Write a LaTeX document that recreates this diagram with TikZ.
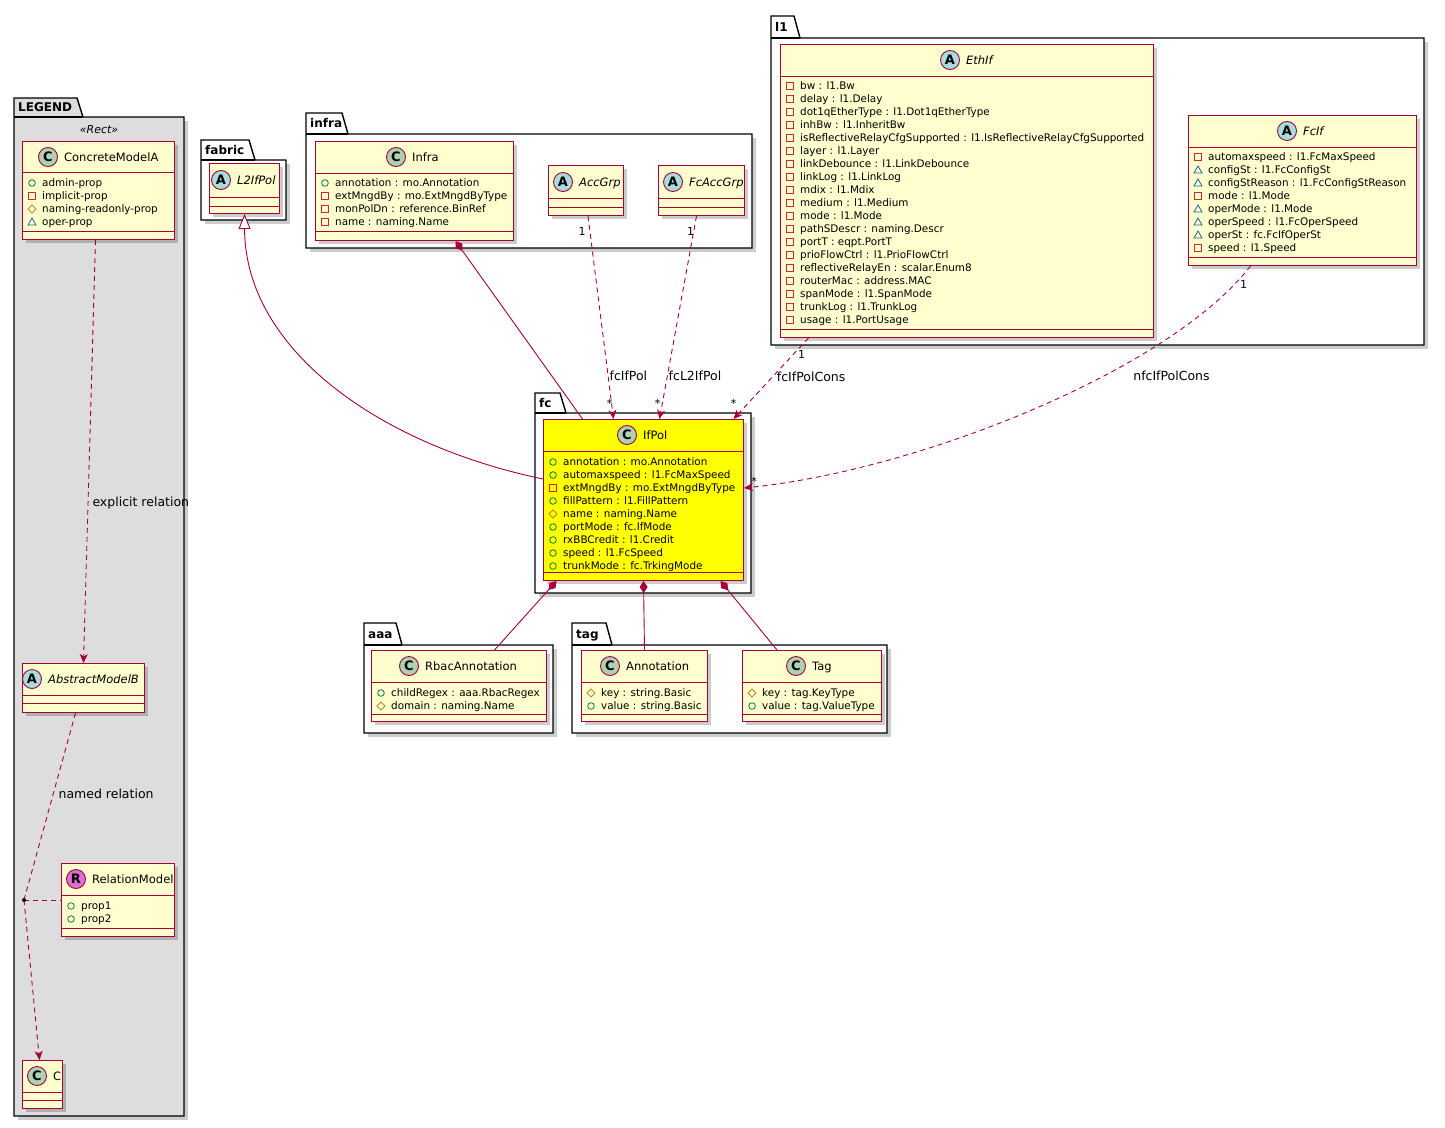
\documentclass[tikz,border=0pt]{standalone}
\usepackage{fontspec}
\setmainfont{DejaVu Sans}
\usetikzlibrary{arrows.meta,positioning,calc}
\definecolor{ClassBorder}{HTML}{A80036}
\definecolor{ClassFill}{HTML}{FEFECE}
\definecolor{FocusFill}{HTML}{FFFF00}
\definecolor{LegendFill}{HTML}{DDDDDD}
\definecolor{BadgeC}{HTML}{ADD1B2}
\definecolor{BadgeA}{HTML}{A9DCDF}
\definecolor{BadgeR}{HTML}{DA70D6}
\definecolor{VisPub}{HTML}{038048}
\definecolor{VisPriv}{HTML}{C82930}
\definecolor{VisProt}{HTML}{B38D22}
\definecolor{VisPkg}{HTML}{1963A0}
\newcommand{\UmlPackage}[9]{%
  \fill[boxshadow] (#3+4,#5+4) rectangle (#6+4,#7+4);
  \draw[pkgframe,fill=#9] (#3,#4) -- (#3+#8-6,#4) -- (#3+#8,#5) -- (#6,#5) -- (#6,#7) -- (#3,#7) -- cycle;
  \draw[pkgframe] (#3,#5) -- (#3+#8,#5);
  \node[pkglabel] (#1) at (#3+4,{(#4+#5)/2}) {#2};
}
\newcommand{\UmlClass}[7]{%
  \fill[boxshadow] (#2+4,#3+4) rectangle (#4+4,#5+4);
  \node[classbox,fill=#6,minimum width={#4-#2},minimum height={#5-#3}] (#1) at (#2,#3) {};
  \foreach \sepy in {#7} \draw[classrule] (#2,\sepy) -- (#4,\sepy);
}
\newcommand{\UmlHead}[6]{%
  \node[badge,fill=#5] (#1-badge) at (#2,#3) {#4};
  \node[classname,right=6pt of #1-badge] (#1-name) {#6};
}
\newcommand{\AttrIcon}[3]{\csname attricon#3\endcsname{#1}{#2}}
\newcommand{\attriconpb}[2]{\draw[VisPub,line width=0.8pt] (#1,#2) circle (3.3);}
\newcommand{\attriconpv}[2]{\draw[VisPriv,line width=0.8pt] (#1-3.3,#2-3.3) rectangle (#1+3.3,#2+3.3);}
\newcommand{\attriconpt}[2]{\draw[VisProt,line width=0.8pt] (#1,#2-4) -- (#1+4,#2) -- (#1,#2+4) -- (#1-4,#2) -- cycle;}
\newcommand{\attriconpk}[2]{\draw[VisPkg,line width=0.8pt] (#1,#2-4) -- (#1+4,#2+3) -- (#1-4,#2+3) -- cycle;}
\newcommand{\AttrList}[4]{%
  \foreach \vis/\txt [count=\row from 0] in {#4} {
    \AttrIcon{#2+10}{#3+13*\row}{\vis}
    \node[attr] (#1-attr\row) at (#2+20,#3+13*\row) {\txt};
  }
}
\tikzset{
  diagram/.style={x=1pt,y=-1pt},
  boxshadow/.style={fill=black,opacity=0.2},
  pkgframe/.style={draw=black,line width=1.4pt},
  pkglabel/.style={anchor=west,inner sep=0pt,font=\fontsize{12}{12}\selectfont\bfseries,text height=8.6pt,text depth=0pt},
  classbox/.style={draw=ClassBorder,line width=1pt,inner sep=0pt,anchor=north west},
  classrule/.style={draw=ClassBorder,line width=1pt},
  badge/.style={circle,draw=ClassBorder,line width=0.9pt,minimum size=19pt,inner sep=0pt,font=\fontsize{13}{13}\selectfont\bfseries},
  classname/.style={inner sep=0pt,font=\fontsize{11.5}{11.5}\selectfont,text height=8.3pt,text depth=0pt},
  stereo/.style={inner sep=0pt,font=\fontsize{11}{11}\selectfont\itshape},
  attr/.style={anchor=west,inner sep=0pt,font=\fontsize{10.4}{13}\selectfont,text height=7.5pt,text depth=0pt},
  link/.style={draw=ClassBorder,line width=0.9pt},
  dep/.style={link,dash pattern=on 5pt off 4pt,-{Stealth[length=9pt,width=8pt,inset=2.5pt]}},
  namedrel/.style={link,dash pattern=on 5pt off 4pt},
  comp/.style={link,{Diamond[length=12pt,width=8pt]}-},
  inherit/.style={link,-{Triangle[length=15pt,width=12pt,fill=white]}},
  rellabel/.style={inner sep=0pt,font=\fontsize{12.5}{13}\selectfont,text height=8.4pt,text depth=0pt},
  mult/.style={inner sep=0pt,font=\fontsize{11}{11}\selectfont},
}
\begin{document}
\begin{tikzpicture}[diagram]
  \useasboundingbox (0,0) rectangle (1445,1127);
  \fill[white] (0,0) rectangle (1445,1127);

  % packages
  \UmlPackage{legend}{LEGEND}{14}{98}{117}{184}{1116}{69}{LegendFill}
  \UmlPackage{fabric}{fabric}{201}{140}{160}{286}{220}{54}{white}
  \UmlPackage{infra-pkg}{infra}{306}{113}{134}{752}{248}{42}{white}
  \UmlPackage{l1}{l1}{771}{16}{38}{1424}{345}{29}{white}
  \UmlPackage{fc}{fc}{535}{393}{413}{751}{593}{31}{white}
  \UmlPackage{aaa}{aaa}{364}{623}{645}{553}{733}{38}{white}
  \UmlPackage{tag-pkg}{tag}{572}{623}{645}{887}{733}{40}{white}
  \node[stereo] (legend-stereo) at (99,130) {«Rect»};

  % legend
  \UmlClass{concrete}{22}{141}{174}{239}{ClassFill}{172,231}
  \UmlHead{concrete}{48}{157}{C}{BadgeC}{ConcreteModelA}
  \AttrList{concrete}{22}{183}{pb/admin-prop,pv/implicit-prop,pt/naming-readonly-prop,pk/oper-prop}
  \UmlClass{abstractb}{22}{663}{144}{712}{ClassFill}{695,703}
  \UmlHead{abstractb}{32}{679}{A}{BadgeA}{\itshape AbstractModelB}
  \UmlClass{relmodel}{61}{863}{174}{936}{ClassFill}{895,928}
  \UmlHead{relmodel}{76}{879}{R}{BadgeR}{RelationModel}
  \AttrList{relmodel}{61}{906}{pb/prop1,pb/prop2}
  \UmlClass{cls}{22}{1060}{62}{1108}{ClassFill}{1092,1100}
  \UmlHead{cls}{37}{1076}{C}{BadgeC}{C}

  % fabric, infra
  \UmlClass{l2ifpol}{209}{163}{279}{213}{ClassFill}{197,206}
  \UmlHead{l2ifpol}{221}{180}{A}{BadgeA}{\itshape L2IfPol}
  \UmlClass{infra}{315}{141}{513}{240}{ClassFill}{173,231}
  \UmlHead{infra}{396}{157}{C}{BadgeC}{Infra}
  \AttrList{infra}{315}{183}{pb/annotation : mo.Annotation,pv/extMngdBy : mo.ExtMngdByType,pv/monPolDn : reference.BinRef,pv/name : naming.Name}
  \UmlClass{accgrp}{548}{165}{623}{215}{ClassFill}{198,207}
  \UmlHead{accgrp}{563}{182}{A}{BadgeA}{\itshape AccGrp}
  \UmlClass{fcaccgrp}{658}{165}{744}{215}{ClassFill}{198,207}
  \UmlHead{fcaccgrp}{673}{182}{A}{BadgeA}{\itshape FcAccGrp}

  % l1
  \UmlClass{ethif}{780}{44}{1153}{337}{ClassFill}{76,329}
  \UmlHead{ethif}{950}{60}{A}{BadgeA}{\itshape EthIf}
  \AttrList{ethif}{780}{86}{pv/bw : l1.Bw,pv/delay : l1.Delay,pv/dot1qEtherType : l1.Dot1qEtherType,pv/inhBw : l1.InheritBw,pv/isReflectiveRelayCfgSupported : l1.IsReflectiveRelayCfgSupported,pv/layer : l1.Layer,pv/linkDebounce : l1.LinkDebounce,pv/linkLog : l1.LinkLog,pv/mdix : l1.Mdix,pv/medium : l1.Medium,pv/mode : l1.Mode,pv/pathSDescr : naming.Descr,pv/portT : eqpt.PortT,pv/prioFlowCtrl : l1.PrioFlowCtrl,pv/reflectiveRelayEn : scalar.Enum8,pv/routerMac : address.MAC,pv/spanMode : l1.SpanMode,pv/trunkLog : l1.TrunkLog,pv/usage : l1.PortUsage}
  \UmlClass{fcif}{1188}{115}{1416}{265}{ClassFill}{147,257}
  \UmlHead{fcif}{1287}{131}{A}{BadgeA}{\itshape FcIf}
  \AttrList{fcif}{1188}{157}{pv/automaxspeed : l1.FcMaxSpeed,pk/configSt : l1.FcConfigSt,pk/configStReason : l1.FcConfigStReason,pv/mode : l1.Mode,pk/operMode : l1.Mode,pk/operSpeed : l1.FcOperSpeed,pk/operSt : fc.FcIfOperSt,pv/speed : l1.Speed}

  % fc
  \UmlClass{ifpol}{543}{419}{743}{580}{FocusFill}{451,572}
  \UmlHead{ifpol}{627}{435}{C}{BadgeC}{IfPol}
  \AttrList{ifpol}{543}{462}{pb/annotation : mo.Annotation,pb/automaxspeed : l1.FcMaxSpeed,pv/extMngdBy : mo.ExtMngdByType,pb/fillPattern : l1.FillPattern,pt/name : naming.Name,pb/portMode : fc.IfMode,pb/rxBBCredit : l1.Credit,pb/speed : l1.FcSpeed,pb/trunkMode : fc.TrkingMode}

  % aaa, tag
  \UmlClass{rbac}{371}{650}{546}{721}{ClassFill}{682,714}
  \UmlHead{rbac}{409}{666}{C}{BadgeC}{RbacAnnotation}
  \AttrList{rbac}{371}{693}{pb/childRegex : aaa.RbacRegex,pt/domain : naming.Name}
  \UmlClass{annotation}{581}{650}{707}{721}{ClassFill}{682,714}
  \UmlHead{annotation}{610}{666}{C}{BadgeC}{Annotation}
  \AttrList{annotation}{581}{693}{pt/key : string.Basic,pb/value : string.Basic}
  \UmlClass{tag}{742}{650}{881}{721}{ClassFill}{682,714}
  \UmlHead{tag}{796}{666}{C}{BadgeC}{Tag}
  \AttrList{tag}{742}{693}{pt/key : tag.KeyType,pb/value : tag.ValueType}

  % relations
  \draw[dep] ($(concrete.south)+(-3,0)$) -- node[rellabel,pos=0.62,anchor=west,xshift=4pt] (explicit-lbl) {explicit relation} (abstractb.north);
  \coordinate (relpt) at (24,900);
  \draw[namedrel] ($(abstractb.south)+(-8,0)$) -- node[rellabel,pos=0.434,anchor=west,xshift=5pt] (named-lbl) {named relation} (relpt);
  \draw[namedrel] (relpt) -- (relmodel.west);
  \draw[dep] (relpt) -- ($(cls.north)+(-3,0)$);
  \fill (relpt) circle (2);

  \draw[inherit] ($(ifpol.west)+(0,-21)$) .. controls (380,445) and (245,350) .. (l2ifpol.south);
  \draw[comp] ($(infra.south)+(41,0)$) -- ($(ifpol.north)+(-61,0)$);
  \draw[dep] ($(accgrp.south)+(2,0)$) -- node[rellabel,pos=0.79,anchor=west,xshift=1pt] (fcifpol-lbl) {fcIfPol}
    node[mult,at start,xshift=-6pt,yshift=-15pt] (fcifpol-src) {1}
    node[mult,at end,xshift=-4pt,yshift=16pt] (fcifpol-dst) {*} ($(ifpol.north)+(-30,0)$);
  \draw[dep] ($(fcaccgrp.south)+(-5,0)$) -- node[rellabel,pos=0.79,anchor=west,xshift=1pt] (fcl2ifpol-lbl) {fcL2IfPol}
    node[mult,at start,xshift=-6pt,yshift=-15pt] (fcl2ifpol-src) {1}
    node[mult,at end,xshift=-2pt,yshift=16pt] (fcl2ifpol-dst) {*} ($(ifpol.north)+(16,0)$);
  \draw[dep] ($(ethif.south)+(-158.5,0)$) -- node[rellabel,pos=0.48,anchor=west,xshift=4pt] (fcifpolcons-lbl) {fcIfPolCons}
    node[mult,at start,xshift=-7pt,yshift=-16pt] (fcifpolcons-src) {1}
    node[mult,at end,yshift=16pt] (fcifpolcons-dst) {*} ($(ifpol.north)+(90,0)$);
  \draw[dep] ($(fcif.south)+(-52,0)$) .. controls (1170,370) and (920,470) .. node[rellabel,pos=0.37,anchor=west,xshift=29pt] (nfcifpolcons-lbl) {nfcIfPolCons}
    node[mult,at start,xshift=-7pt,yshift=-18pt] (nfcifpolcons-src) {1}
    node[mult,at end,xshift=10pt,yshift=7pt] (nfcifpolcons-dst) {*} ($(ifpol.east)+(0,-12)$);

  \draw[comp] ($(ifpol.south)+(-87,0)$) -- ($(rbac.north)+(35.5,0)$);
  \draw[comp] (ifpol.south) -- (annotation.north);
  \draw[comp] ($(ifpol.south)+(77,0)$) -- ($(tag.north)+(-35,0)$);
\end{tikzpicture}
\end{document}
